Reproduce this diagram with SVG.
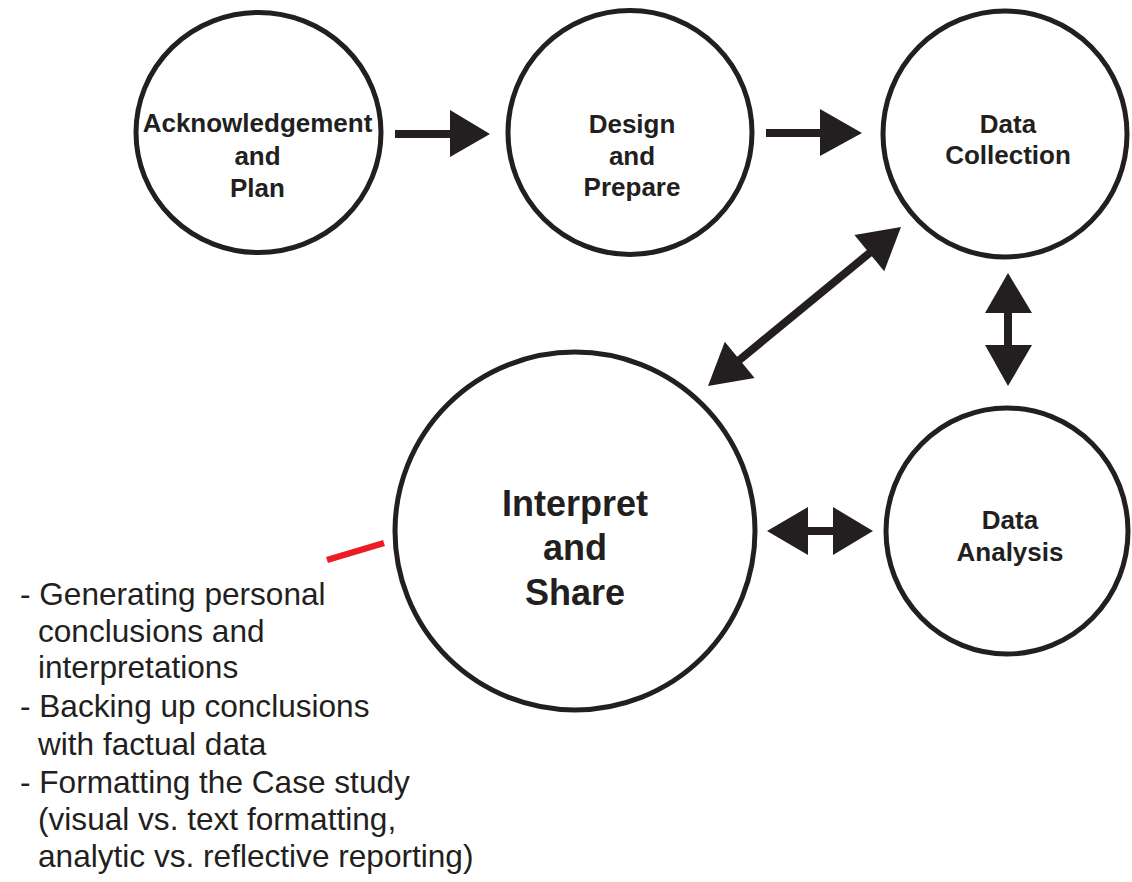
<svg xmlns="http://www.w3.org/2000/svg" width="1132" height="882" viewBox="0 0 1132 882">
  <style>
    .node { fill: #ffffff; stroke: #231f20; stroke-width: 5; }
    .lbl { font-family: "Liberation Sans", Arial, sans-serif; font-weight: bold; font-size: 26px; fill: #231f20; text-anchor: middle; }
    .lbl-big { font-size: 36px; }
    .shaft { stroke: #231f20; stroke-width: 8; fill: none; }
    .head { fill: #231f20; stroke: none; }
    .notes { font-family: "Liberation Sans", Arial, sans-serif; font-size: 31.6px; fill: #231f20; }
  </style>

  <rect width="1132" height="882" fill="#ffffff"/>

  <!-- connectors -->
  <g id="connectors">
    <!-- Acknowledgement -> Design -->
    <line class="shaft" x1="395" y1="134" x2="452" y2="134"/>
    <polygon class="head" points="450,110 490,134 450,157"/>
    <!-- Design -> Data Collection -->
    <line class="shaft" x1="766" y1="133" x2="822" y2="133"/>
    <polygon class="head" points="820,109 862,133 820,156"/>
    <!-- Data Collection <-> Interpret -->
    <line class="shaft" x1="737" y1="362" x2="872" y2="251"/>
    <polygon class="head" points="901,227 854.4,235 884.2,271.2"/>
    <polygon class="head" points="708,386 724.8,341.8 754.6,378"/>
    <!-- Data Collection <-> Data Analysis -->
    <line class="shaft" x1="1008" y1="310" x2="1008" y2="348"/>
    <polygon class="head" points="1008,273 1032,313 985,313"/>
    <polygon class="head" points="1008,386 985,345 1032,345"/>
    <!-- Interpret <-> Data Analysis -->
    <line class="shaft" x1="805" y1="531" x2="836" y2="531"/>
    <polygon class="head" points="767,531 808,507 808,555"/>
    <polygon class="head" points="873,531 833,507 833,555"/>
    <!-- callout tick -->
    <line x1="327" y1="560" x2="384" y2="543" stroke="#ed1c24" stroke-width="6.5"/>
  </g>

  <g id="node-acknowledgement">
    <ellipse class="node" cx="258.5" cy="132.5" rx="122.5" ry="120"/>
    <text class="lbl" x="257.5" y="132">Acknowledgement</text>
    <text class="lbl" x="257.5" y="165">and</text>
    <text class="lbl" x="257.5" y="197">Plan</text>
  </g>

  <g id="node-design">
    <ellipse class="node" cx="630" cy="132.5" rx="122" ry="122"/>
    <text class="lbl" x="632" y="133">Design</text>
    <text class="lbl" x="632" y="165">and</text>
    <text class="lbl" x="632" y="196">Prepare</text>
  </g>

  <g id="node-data-collection">
    <ellipse class="node" cx="1005" cy="134" rx="122" ry="123"/>
    <text class="lbl" x="1008" y="133">Data</text>
    <text class="lbl" x="1008" y="164">Collection</text>
  </g>

  <g id="node-data-analysis">
    <ellipse class="node" cx="1007" cy="531" rx="121" ry="123"/>
    <text class="lbl" x="1010" y="529">Data</text>
    <text class="lbl" x="1010" y="561">Analysis</text>
  </g>

  <g id="node-interpret">
    <ellipse class="node" cx="575" cy="531" rx="180" ry="179"/>
    <text class="lbl lbl-big" x="575" y="516">Interpret</text>
    <text class="lbl lbl-big" x="575" y="560">and</text>
    <text class="lbl lbl-big" x="575" y="605">Share</text>
  </g>

  <g id="notes">
    <text class="notes" x="20" y="605">- Generating personal</text>
    <text class="notes" x="38" y="642">conclusions and</text>
    <text class="notes" x="38" y="678">interpretations</text>
    <text class="notes" x="20" y="717">- Backing up conclusions</text>
    <text class="notes" x="38" y="755">with factual data</text>
    <text class="notes" x="20" y="793">- Formatting the Case study</text>
    <text class="notes" x="38" y="830">(visual vs. text formatting,</text>
    <text class="notes" x="38" y="867">analytic vs. reflective reporting)</text>
  </g>
</svg>
